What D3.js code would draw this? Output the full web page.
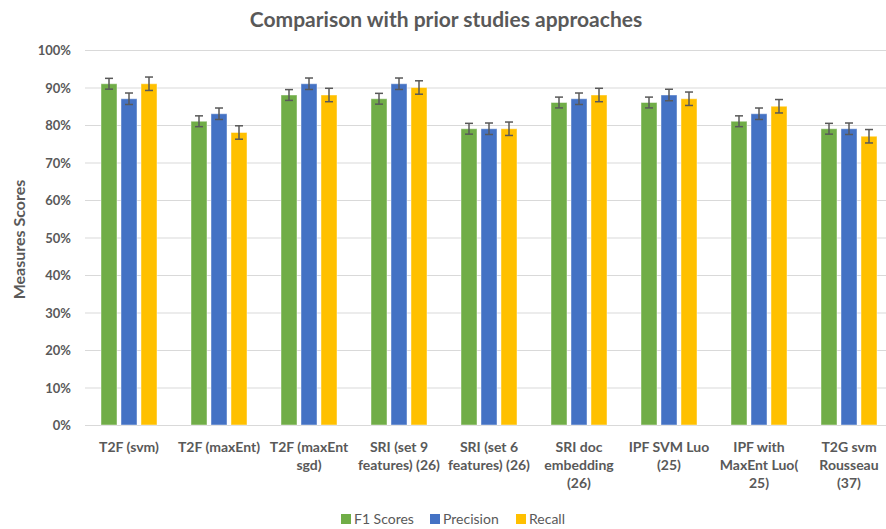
<!DOCTYPE html>
<html>
<head>
<meta charset="utf-8">
<script src="https://cdn.jsdelivr.net/npm/d3@7"></script>
<style>
  body { margin: 0; background: #fff; }
  svg text { font-family: Lato, "Open Sans", sans-serif; }
</style>
</head>
<body>
<div id="chart"></div>
<script>
// categories (line breaks as wrapped in the original)
const categories = [
  "T2F (svm)",
  "T2F (maxEnt)",
  "T2F (maxEnt\nsgd)",
  "SRI (set 9\nfeatures) (26)",
  "SRI (set 6\nfeatures) (26)",
  "SRI doc\nembedding\n(26)",
  "IPF SVM Luo\n(25)",
  "IPF with\nMaxEnt Luo(\n25)",
  "T2G svm\nRousseau\n(37)"
];
const seriesNames = ["F1 Scores", "Precision", "Recall"];
const f1Scores  = [91, 81, 88, 87, 79, 86, 86, 81, 79];
const precision = [87, 83, 91, 91, 79, 87, 88, 83, 79];
const recall    = [91, 78, 88, 90, 79, 88, 87, 85, 77];
// standard error per series
const errors = [1.44, 1.53, 1.79];
const yTicks = [0, 10, 20, 30, 40, 50, 60, 70, 80, 90, 100];
const colors = ["#70AD47", "#4472C4", "#FFC000"];

const width = 886, height = 529;
const svg = d3.select("#chart").append("svg")
  .attr("width", width).attr("height", height);

const x0 = d3.scaleBand().domain(categories).range([84, 894]);
const x1 = d3.scaleBand().domain(seriesNames).range([0, 56]).paddingInner(0.2);
const y = d3.scaleLinear().domain([0, 100]).range([425, 50]);

const textColor = "#595959";

// title
svg.append("text")
  .attr("x", 446).attr("y", 27)
  .attr("text-anchor", "middle")
  .attr("font-size", 21).attr("font-weight", "bold")
  .attr("fill", textColor)
  .text("Comparison with prior studies approaches");

// gridlines + y labels
svg.append("g").selectAll("line").data(yTicks).enter().append("line")
  .attr("x1", 85).attr("x2", width)
  .attr("y1", d => y(d) + 0.5).attr("y2", d => y(d) + 0.5)
  .attr("stroke", "#d9d9d9").attr("stroke-width", 1);

svg.append("g").selectAll("text").data(yTicks).enter().append("text")
  .attr("x", 71).attr("y", d => y(d) + 5)
  .attr("text-anchor", "end")
  .attr("font-size", 13).attr("font-weight", "bold")
  .attr("fill", textColor)
  .text(d => d + "%");

// y axis title
svg.append("text")
  .attr("transform", "translate(25," + (y(50) + 2) + ") rotate(-90)")
  .attr("text-anchor", "middle")
  .attr("font-size", 16).attr("font-weight", "bold")
  .attr("fill", textColor)
  .text("Measures Scores");

const allSeries = [f1Scores, precision, recall];

const groups = svg.append("g").selectAll("g").data(categories).enter().append("g")
  .attr("transform", d => "translate(" + (x0(d) + (x0.bandwidth() - 56) / 2) + ",0)");

groups.each(function(cat, ci) {
  const g = d3.select(this);
  seriesNames.forEach((s, si) => {
    const v = allSeries[si][ci];
    const bx = x1(s);
    const bw = x1.bandwidth();
    g.append("rect")
      .attr("x", bx).attr("y", y(v))
      .attr("width", bw).attr("height", y(0) - y(v))
      .attr("fill", colors[si])
      .attr("stroke", "rgba(255,255,255,0.45)").attr("stroke-width", 1);
    const cx = bx + bw / 2;
    const e = errors[si];
    g.append("line")
      .attr("x1", cx).attr("x2", cx)
      .attr("y1", y(v + e)).attr("y2", y(v - e))
      .attr("stroke", "#595959").attr("stroke-width", 1.5);
    [v + e, v - e].forEach(ev => {
      g.append("line")
        .attr("x1", cx - 4).attr("x2", cx + 4)
        .attr("y1", y(ev)).attr("y2", y(ev))
        .attr("stroke", "#595959").attr("stroke-width", 1.5);
    });
  });
});

// category labels
const catLabels = svg.append("g").selectAll("text").data(categories).enter().append("text")
  .attr("x", d => x0(d) + x0.bandwidth() / 2)
  .attr("y", 452)
  .attr("text-anchor", "middle")
  .attr("font-size", 14).attr("font-weight", "bold")
  .attr("fill", textColor);
catLabels.each(function(d) {
  const t = d3.select(this);
  d.split("\n").forEach((line, i) => {
    t.append("tspan")
      .attr("x", t.attr("x"))
      .attr("dy", i === 0 ? 0 : 18)
      .text(line);
  });
});

// legend
const legendX = [341, 430, 516];
const legend = svg.append("g").selectAll("g").data(seriesNames).enter().append("g")
  .attr("transform", (d, i) => "translate(" + legendX[i] + ",514)");
legend.append("rect")
  .attr("width", 10).attr("height", 10)
  .attr("fill", (d, i) => colors[i]);
legend.append("text")
  .attr("x", 13).attr("y", 10)
  .attr("font-size", 14)
  .attr("fill", textColor)
  .text(d => d);
</script>
</body>
</html>
